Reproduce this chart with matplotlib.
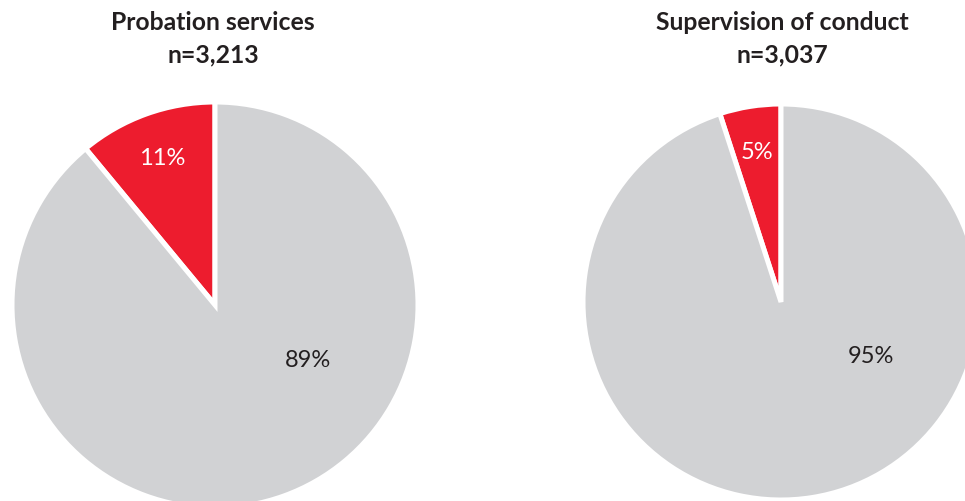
import numpy as np
import matplotlib
matplotlib.use("Agg")
import matplotlib.pyplot as plt

# ---------------------------------------------------------------------------
# Data
# ---------------------------------------------------------------------------
titles   = ["Probation services", "Supervision of conduct"]
n_counts = ["3,213", "3,037"]
red_pct  = [11, 5]
grey_pct = [89, 95]

RED  = "#ED1C2E"
GREY = "#D1D2D4"
TEXT = "#231F20"

W, H = 965, 502
plt.rcParams["font.family"] = ["Lato", "DejaVu Sans"]

fig = plt.figure(figsize=(W / 100, H / 100), dpi=100)

# pie centres / radii in pixels (from top-left)
centres = [(215, 306), (781, 303)]
radii   = [203, 198]
title_x = [213, 782]

for i in range(2):
    cx, cy, r = centres[i][0], centres[i][1], radii[i]
    ax = fig.add_axes([(cx - r) / W, (H - cy - r) / H, 2 * r / W, 2 * r / H])
    vals = [red_pct[i], grey_pct[i]]
    ax.pie(vals, colors=[RED, GREY], startangle=90, counterclock=True,
           radius=1.0, wedgeprops=dict(edgecolor="white", linewidth=3.6))
    ax.set_xlim(-1, 1)
    ax.set_ylim(-1, 1)
    ax.set_aspect("equal")
    ax.axis("off")
    for p in ax.patches:
        p.set_clip_on(False)

    # red label sits on the wedge bisector, grey label lower right
    red_mid = np.deg2rad(90 + red_pct[i] / 100 * 360 / 2)
    rd = 0.77
    ax.text(rd * np.cos(red_mid), rd * np.sin(red_mid), f"{red_pct[i]}%",
            ha="center", va="center", color="white", fontsize=17,
            fontweight="normal")
    ga = np.deg2rad(-30.5)
    gd = 0.53
    ax.text(gd * np.cos(ga), gd * np.sin(ga), f"{grey_pct[i]}%",
            ha="center", va="center", color=TEXT, fontsize=17,
            fontweight="normal")

    fig.text(title_x[i] / W, 1 - 22 / H, titles[i], ha="center", va="center",
             fontsize=17.8, fontweight="bold", color=TEXT)
    fig.text(title_x[i] / W, 1 - 55 / H, f"n={n_counts[i]}", ha="center",
             va="center", fontsize=17.8, fontweight="bold", color=TEXT)

fig.savefig("out.png", dpi=100)
